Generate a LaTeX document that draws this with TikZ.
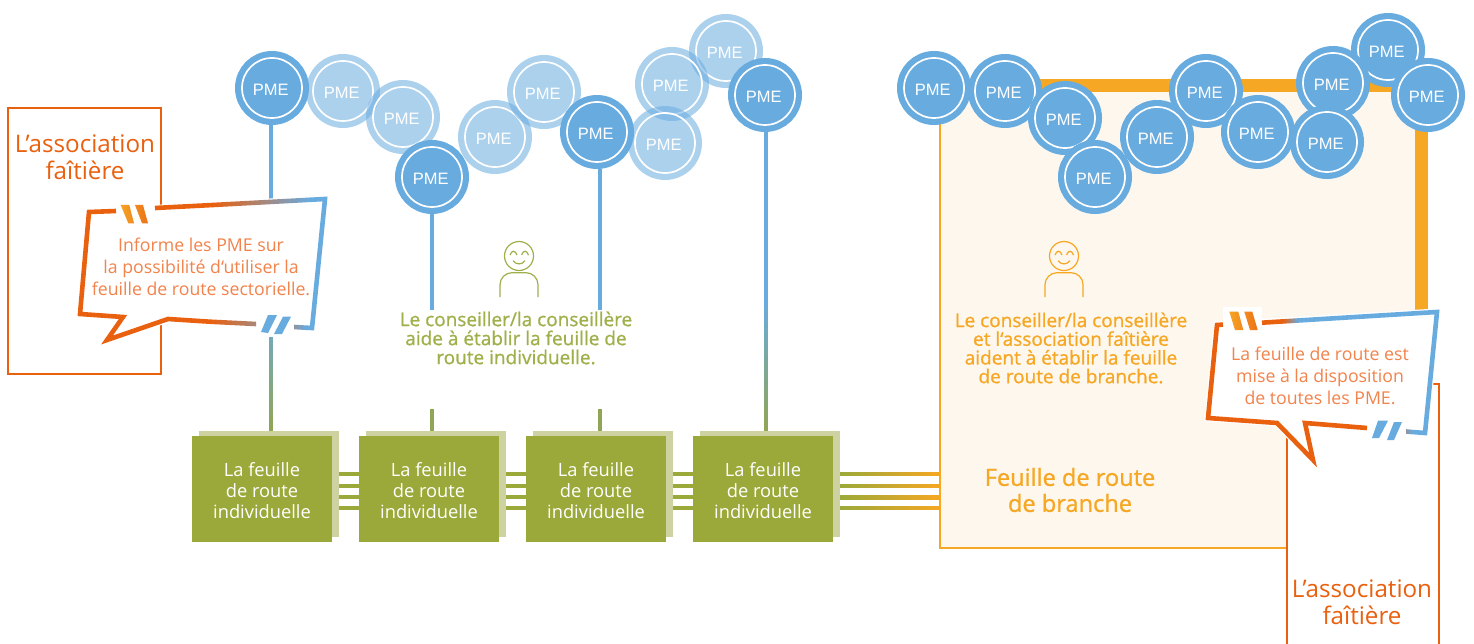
\documentclass[tikz,border=0pt]{standalone}
\usepackage{fontspec}
\setmainfont{Open Sans}
\newfontfamily\pmefont{Liberation Sans}
\newfontfamily\medfont[FakeBold=0.9]{Open Sans}
\usetikzlibrary{calc}
\definecolor{pmeblue}{HTML}{68ABDF}
\definecolor{orA}{HTML}{E9600F}
\definecolor{orT}{HTML}{F2834C}
\definecolor{yel}{HTML}{F6A723}
\definecolor{cream}{HTML}{FEF7EE}
\definecolor{olive}{HTML}{9BA93A}
\definecolor{oliveL}{HTML}{CDD2A0}
\definecolor{oliveT}{HTML}{9FB04A}
\definecolor{oliveLine}{HTML}{90A555}
\definecolor{qA}{HTML}{F5A324}
\definecolor{qB}{HTML}{F08A20}
\definecolor{qC}{HTML}{EC7416}
\tikzset{
  x=1pt,y=-1pt,
  pme/.style={circle,fill=pmeblue,draw=white,line width=1.7pt,minimum size=60pt,inner sep=0pt,outer sep=7pt,
    preaction={draw=pmeblue,line width=14pt},text=white,font=\pmefont\fontsize{16.5}{18}\selectfont},
  pmelight/.style={circle,draw=white,line width=1.7pt,minimum size=60pt,inner sep=0pt,text=white,font=\pmefont\fontsize{16.5}{18}\selectfont},
  assoc/.style={draw=orA,line width=2.6pt,fill=white,inner sep=0pt},
  assoctext/.style={text=orA,align=center,inner sep=0pt,font=\fontsize{24.2}{27}\selectfont},
  calltext/.style={text=orT,align=center,inner sep=0pt,font=\fontsize{17.7}{22}\selectfont},
  greentext/.style={text=oliveT,align=center,inner sep=0pt,font=\medfont\fontsize{19}{19}\selectfont},
  yeltext/.style={text=yel,align=center,inner sep=0pt,font=\medfont\fontsize{19}{18.7}\selectfont},
  front/.style={fill=olive,minimum width=140pt,minimum height=106pt,inner sep=0pt,text=white,align=center,font=\fontsize{18.3}{21}\selectfont},
  back/.style={fill=oliveL,minimum width=140pt,minimum height=106pt,inner sep=0pt},
  stroke/.style={line width=4.6pt,line join=miter,miter limit=10},
}
\newcommand\plabel{\raisebox{-7.2pt}[0pt][0pt]{PME}\kern2.6pt}
\newcommand\sheettext{\rule{0pt}{17.5pt}La feuille\\de route\\individuelle}
\newcommand\gseg[6]{\shade[left color=#5,right color=#6] (#1,#2-2.3) -- (#3,#4-2.3) -- (#3,#4+2.3) -- (#1,#2+2.3) -- cycle;}
\newcommand\vgrad[2]{\foreach \i in {0,...,32}{\pgfmathsetmacro\p{100-\i*100/32}
  \fill[pmeblue!\p!oliveLine] ($(#1)!{\i/33}!(#2)+(-2,0)$) rectangle ($(#1)!{(\i+1)/33}!(#2)+(2,0.3)$);}}
\newcommand\lightpme[3]{\fill[pmeblue,opacity=.55] (#2,#3) circle (37pt);\node[pmelight] (#1) at (#2,#3) {\plabel};}
\newcommand\person[3]{\begin{scope}[shift={(#1,#2)},draw=#3,line width=1.2pt]
  \draw (0,0) circle (14.5pt);
  \draw (-9,-1) .. controls (-7,-6) and (-4,-6) .. (-2,-1);
  \draw (2.5,-1) .. controls (4.5,-6) and (7.5,-6) .. (9.5,-1);
  \draw (-6,4.7) .. controls (-3,9) and (3,9) .. (6,4.7);
  \draw[rounded corners=12pt] (-19,41) -- (-19,16.7) -- (19,16.7) -- (19,41);
\end{scope}}
\begin{document}
\begin{tikzpicture}
\useasboundingbox (0,0) rectangle (1474,644);
% branch box
\fill[cream] (940,86) rectangle (1421,548);
\draw[yel,line width=2.6pt] (940,86) -- (940,548) -- (1287,548);
\draw[yel,line width=13pt] (945,86) -- (1421,86) -- (1421,312);
% PME circles
\lightpme{l1}{343}{91}
\lightpme{l2}{403}{117}
\lightpme{l3}{495}{137}
\lightpme{l4}{544}{92}
\lightpme{l5}{726}{51}
\lightpme{l6}{672}{84}
\lightpme{l7}{665}{143}
\node[pme] (p1) at (272,88) {\plabel};
\node[pme] (p2) at (432,177) {\plabel};
\node[pme] (p3) at (597,132) {\plabel};
\node[pme] (p4) at (765,95) {\plabel};
\node[pme] (r1) at (934,88) {\plabel};
\node[pme] (r2) at (1005,91) {\plabel};
\node[pme] (r3) at (1065,118) {\plabel};
\node[pme] (r4) at (1095,177) {\plabel};
\node[pme] (r5) at (1206,91) {\plabel};
\node[pme] (r6) at (1157,137) {\plabel};
\node[pme] (r7) at (1258,132) {\plabel};
\node[pme] (r8) at (1388,50) {\plabel};
\node[pme] (r9) at (1333,83) {\plabel};
\node[pme] (r10) at (1327,142) {\plabel};
\node[pme] (r11) at (1428,95) {\plabel};
% sheets
\foreach \n/\cx in {1/262,2/429,3/596,4/763}{
  \node[back] (b\n) at (\cx+7,484) {};
}
% vertical connectors
\coordinate (m1) at (270.7,300);
\coordinate (m4) at (765.7,300);
\coordinate (g2t) at (431.7,310);
\coordinate (g2b) at (431.7,409);
\coordinate (g3t) at (600,310);
\coordinate (g3b) at (600,409);
\coordinate (e1) at (b1.north -| m1);
\coordinate (e4) at (b4.north -| m4);
\fill[pmeblue] ($(p1.south)+(-3.3,0)$) rectangle ($(m1)+(2,0)$);
\vgrad{m1}{e1}
\fill[pmeblue] ($(p4.south -| m4)+(-2,0)$) rectangle ($(m4)+(2,0)$);
\vgrad{m4}{e4}
\fill[pmeblue] ($(p2.south -| g2t)+(-2,0)$) rectangle ($(g2t)+(2,0)$);
\fill[oliveLine] ($(g2b)+(-2,0)$) rectangle ($(b2.north -| g2b)+(2,0)$);
\fill[pmeblue] ($(p3.south -| g3t)+(-2,0)$) rectangle ($(g3t)+(2,0)$);
\fill[oliveLine] ($(g3b)+(-2,0)$) rectangle ($(b3.north -| g3b)+(2,0)$);
% sheets front
\node[front] (f1) at (262,489) {\sheettext};
\node[front] (f2) at (429,489) {\sheettext};
\node[front] (f3) at (596,489) {\sheettext};
\node[front] (f4) at (763,489) {\sheettext};
% horizontal connectors
\coordinate (br) at (940,484);
\foreach \o/\w in {10pt/3.2pt,-2pt/3.2pt,-13pt/4pt,-24pt/3.2pt}{
  \draw[olive,line width=\w] ([yshift=\o]b1.east) -- ([yshift=\o]b1.east -| f2.west);
  \draw[olive,line width=\w] ([yshift=\o]b2.east) -- ([yshift=\o]b2.east -| f3.west);
  \draw[olive,line width=\w] ([yshift=\o]b3.east) -- ([yshift=\o]b3.east -| f4.west);
  \shade[left color=olive,right color=yel] ([yshift=\o+0.5*\w]b4.east) rectangle ([yshift=\o-0.5*\w]b4.east -| br);
}
% advisor texts
\person{519}{256}{oliveT}
\person{1064}{256}{yel}
\node[greentext] (t1) at (516,338) {Le conseiller/la conseillère\\aide à établir la feuille de\\route individuelle.};
\node[yeltext] (t2) at (1071,348) {Le conseiller/la conseillère\\et l‘association faîtière\\aident à établir la feuille\\de route de branche.};
\node[text=yel,align=center,inner sep=0pt,font=\medfont\fontsize{23.6}{26}\selectfont] (t3) at (1070,490) {Feuille de route\\de branche};
% left association
\node[assoc,minimum width=153pt,minimum height=266pt] (a1) at (84.5,241) {};
\node[assoctext] (a1t) at (85,157) {L’association\\faîtière};
% right association
\fill[white] (1287,384) rectangle (1439,644);
\draw[orA,line width=2.6pt] (1287,644) -- (1287,384) -- (1439,384) -- (1439,644);
\node[assoctext] (a2t) at (1362,602) {L’association\\faîtière};
% left callout
\filldraw[white,line width=7pt,line join=miter] (89,212) -- (325,199) -- (312,328) -- (168,319) -- (107,340) -- (123,317) -- (80,314) -- cycle;
\fill[white] (258,315) rectangle (296,337);
\fill[white] (116,203) rectangle (155,220);
\draw[orA,stroke] (116,211) -- (89,212) -- (80,314) -- (123,317) -- (107,340) -- (168,319) -- (210,321.7);
\draw[orA,stroke] (155,208) -- (213,205);
\gseg{213}{205}{310}{199.8}{orA}{pmeblue}
\draw[pmeblue,stroke] (310,199.8) -- (325,199) -- (312,328) -- (306,327.7);
\gseg{210}{321.7}{256}{324}{orA}{orA!50!pmeblue}
\gseg{294}{327}{306}{327.7}{orA!30!pmeblue}{pmeblue}
\shade[left color=qA,right color=qB] (120.7,205) -- (129.3,205) -- (134,223.3) -- (128.3,223.3) -- cycle;
\shade[left color=qB,right color=qC] (135,205) -- (143,205) -- (148,223.3) -- (142,223.3) -- cycle;
\fill[pmeblue] (268,315) -- (277,315) -- (268,333) -- (261,332) -- cycle;
\fill[pmeblue] (283,316.7) -- (291,316.7) -- (282,334) -- (274,334) -- cycle;
\node[calltext] (c1t) at (201,267) {Informe les PME sur\\la possibilité d‘utiliser la\\feuille de route sectorielle.};
% right callout
\filldraw[white,line width=7pt,line join=miter] (1217,325) -- (1437,312) -- (1425,433) -- (1305,423) -- (1313,460) -- (1277,423) -- (1208,418) -- cycle;
\fill[white] (1223,307) rectangle (1262,328);
\fill[white] (1367,420) rectangle (1406,441);
\draw[orA,stroke] (1223,324.6) -- (1217,325) -- (1208,418) -- (1277,423) -- (1313,460) -- (1305,423) -- (1367,428);
\draw[orA,stroke] (1262,322.7) -- (1283,321.4);
\gseg{1283}{321.4}{1298}{320.5}{orA}{pmeblue}
\draw[pmeblue,stroke] (1298,320.5) -- (1437,312) -- (1425,433) -- (1412,432);
\gseg{1406}{431.5}{1412}{432}{orA!30!pmeblue}{pmeblue}
\shade[left color=qA,right color=qB] (1229.3,311.7) -- (1238.3,311.7) -- (1243.3,330) -- (1235,330) -- cycle;
\shade[left color=qB,right color=qC] (1244.3,311.7) -- (1252.3,311.7) -- (1257.7,330) -- (1250,330) -- cycle;
\fill[pmeblue] (1378,420.7) -- (1388,420.7) -- (1379,438) -- (1372,438) -- cycle;
\fill[pmeblue] (1394,422) -- (1402,422) -- (1394,440) -- (1387,440) -- cycle;
\node[calltext] (c2t) at (1320,376) {La feuille de route est\\mise à la disposition\\de toutes les PME.};
\end{tikzpicture}
\end{document}
